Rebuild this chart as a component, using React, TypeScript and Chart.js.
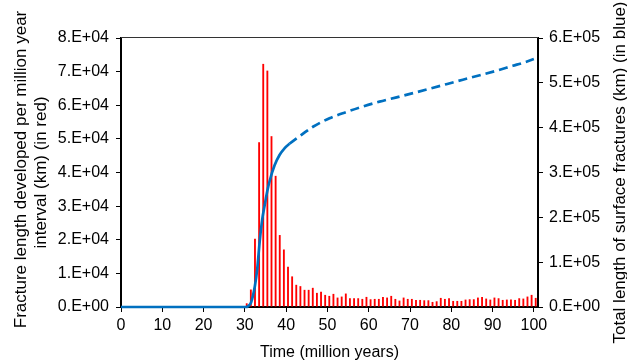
import React, { useEffect, useRef } from "react";
import { Chart, registerables } from "chart.js";

Chart.register(...registerables);

// ---- data ----
const barYears = [
  30, 31, 32, 33, 34, 35, 36, 37, 38, 39,
  40, 41, 42, 43, 44, 45, 46, 47, 48, 49,
  50, 51, 52, 53, 54, 55, 56, 57, 58, 59,
  60, 61, 62, 63, 64, 65, 66, 67, 68, 69,
  70, 71, 72, 73, 74, 75, 76, 77, 78, 79,
  80, 81, 82, 83, 84, 85, 86, 87, 88, 89,
  90, 91, 92, 93, 94, 95, 96, 97, 98, 99, 100,
];
const barValues = [
  1100, 5200, 20300, 49000, 72300, 70300, 50800, 39000, 21400, 17100,
  12000, 9100, 6600, 6200, 5100, 5100, 5700, 4200, 4500, 3600,
  3300, 3900, 2800, 3100, 4000, 2600, 2600, 2600, 2400, 3000,
  2300, 2400, 2400, 3000, 2800, 3300, 2400, 1900, 2800, 2400,
  2400, 2100, 2100, 2000, 2000, 1500, 1700, 2700, 2400, 2600,
  1800, 1800, 1800, 2200, 2300, 2300, 2800, 3000, 2500, 2200,
  2800, 2600, 2100, 2200, 2200, 2100, 2600, 2500, 3100, 3600, 2700,
];

const lineX = [
  0, 30.2, 30.8, 31.5, 32.4, 33.0, 33.6, 34.2, 34.8, 35.4, 36.0, 37.2, 38.4,
  39.6, 40.8, 43.1, 46.5, 50.5, 54.6, 58.5, 62.6, 66.5, 70.7, 74.8, 78.8,
  82.8, 86.9, 90.9, 94.9, 97.5, 100,
];
const lineY = [
  0, 0, 2000, 10000, 45000, 85000, 147000, 195000, 227000, 257000, 281000,
  316000, 339000, 354000, 364000, 380000, 402000, 421000, 435000, 447000,
  458000, 467000, 477000, 487000, 497000, 507000, 517000, 527000, 538000,
  545000, 553000,
];
const dashFrom = 40.8;

const xTickLabels = ["0", "10", "20", "30", "40", "50", "60", "70", "80", "90", "100"];
const leftTickLabels = [
  "0.E+00", "1.E+04", "2.E+04", "3.E+04", "4.E+04", "5.E+04", "6.E+04", "7.E+04", "8.E+04",
];
const rightTickLabels = ["0.E+00", "1.E+05", "2.E+05", "3.E+05", "4.E+05", "5.E+05", "6.E+05"];

const xTitle = "Time (million years)";
const leftTitle = ["Fracture length developed per million year", "interval (km) (in red)"];
const rightTitle = "Total length of surface fractures (km) (in blue)";

const FONT_FAMILY = "'Liberation Sans', Arial, sans-serif";
const FONT_SIZE = 16;
const SIDE_TITLE_SIZE = 17;

const titlesPlugin = {
  id: "titlesPlugin",
  afterDraw(chart: any) {
    const ctx = chart.ctx as CanvasRenderingContext2D;
    const area = chart.chartArea;
    ctx.save();
    // top border of plot area
    ctx.strokeStyle = "#333";
    ctx.lineWidth = 1;
    ctx.beginPath();
    ctx.moveTo(area.left, area.top - 0.5);
    ctx.lineTo(area.right, area.top - 0.5);
    ctx.stroke();

    ctx.fillStyle = "#000";
    ctx.textAlign = "center";
    ctx.textBaseline = "middle";
    const cx = (area.left + area.right) / 2;
    const cy = (area.top + area.bottom) / 2;
    ctx.font = `${FONT_SIZE}px ${FONT_FAMILY}`;
    ctx.fillText(xTitle, cx, 353);

    const drawRot = (text: string, x: number, y: number) => {
      ctx.save();
      ctx.translate(x, y);
      ctx.rotate(-Math.PI / 2);
      ctx.fillText(text, 0, 0);
      ctx.restore();
    };
    ctx.font = `${SIDE_TITLE_SIZE}px ${FONT_FAMILY}`;
    drawRot(leftTitle[0], 21, cy - 3);
    drawRot(leftTitle[1], 41, cy);
    drawRot(rightTitle, 620, cy);
    ctx.restore();
  },
};

export default function App() {
  const canvasRef = useRef<HTMLCanvasElement | null>(null);

  useEffect(() => {
    if (!canvasRef.current) return;
    const font = { family: FONT_FAMILY, size: FONT_SIZE };
    const chart = new Chart(canvasRef.current, {
      type: "bar",
      data: {
        datasets: [
          {
            type: "line",
            label: "Total",
            data: lineX.map((x, i) => ({ x, y: lineY[i] })),
            yAxisID: "y2",
            xAxisID: "x",
            borderColor: "#0070C0",
            borderWidth: 2.7,
            pointRadius: 0,
            cubicInterpolationMode: "monotone",
            clip: false,
            order: 0,
            segment: {
              borderDash: (c: any) => (c.p0.parsed.x >= dashFrom ? [9, 5] : undefined),
            },
          } as any,
          {
            type: "bar",
            label: "Per interval",
            data: barYears.map((yr, i) => ({ x: yr + 0.45, y: barValues[i] })),
            yAxisID: "y",
            xAxisID: "x",
            backgroundColor: "#ff0000",
            borderWidth: 0,
            categoryPercentage: 1,
            barPercentage: 0.45,
            grouped: false,
            order: 1,
          } as any,
        ],
      },
      options: {
        responsive: false,
        animation: false,
        devicePixelRatio: 1,
        layout: { padding: { top: 38, left: 0, right: 0, bottom: 0 } },
        plugins: {
          legend: { display: false },
          tooltip: { enabled: false },
        },
        scales: {
          x: {
            type: "linear",
            position: "bottom",
            min: 0,
            max: 101,
            offset: false,
            afterFit: (s: any) => {
              s.height = 55;
            },
            grid: {
              display: true,
              drawOnChartArea: false,
              drawTicks: true,
              tickLength: 5,
              tickColor: "#000",
              tickWidth: 1,
              offset: false,
            },
            border: { display: true, color: "#000", width: 2 },
            ticks: {
              stepSize: 10,
              includeBounds: false,
              autoSkip: false,
              maxRotation: 0,
              color: "#000",
              font,
              padding: 4,
              callback: (_v: any, i: number) => xTickLabels[i],
            },
          },
          y: {
            type: "linear",
            position: "left",
            min: 0,
            max: 80000,
            afterFit: (s: any) => {
              s.width = 121;
            },
            grid: {
              display: true,
              drawOnChartArea: false,
              drawTicks: true,
              tickLength: 5,
              tickColor: "#000",
              tickWidth: 1,
            },
            border: { display: true, color: "#000", width: 2 },
            ticks: {
              stepSize: 10000,
              color: "#000",
              font,
              padding: 7,
              callback: (_v: any, i: number) => leftTickLabels[i],
            },
          },
          y2: {
            type: "linear",
            position: "right",
            min: 0,
            max: 600000,
            afterFit: (s: any) => {
              s.width = 89;
            },
            grid: {
              display: true,
              drawOnChartArea: false,
              drawTicks: true,
              tickLength: 5,
              tickColor: "#000",
              tickWidth: 1,
            },
            border: { display: true, color: "#000", width: 2 },
            ticks: {
              stepSize: 100000,
              color: "#000",
              font,
              padding: 6,
              callback: (_v: any, i: number) => rightTickLabels[i],
            },
          },
        },
      } as any,
      plugins: [titlesPlugin],
    });
    return () => chart.destroy();
  }, []);

  return (
    <canvas
      ref={canvasRef}
      width={627}
      height={362}
      style={{ position: "fixed", left: 0, top: 0, width: 627, height: 362, background: "#fff" }}
    />
  );
}
